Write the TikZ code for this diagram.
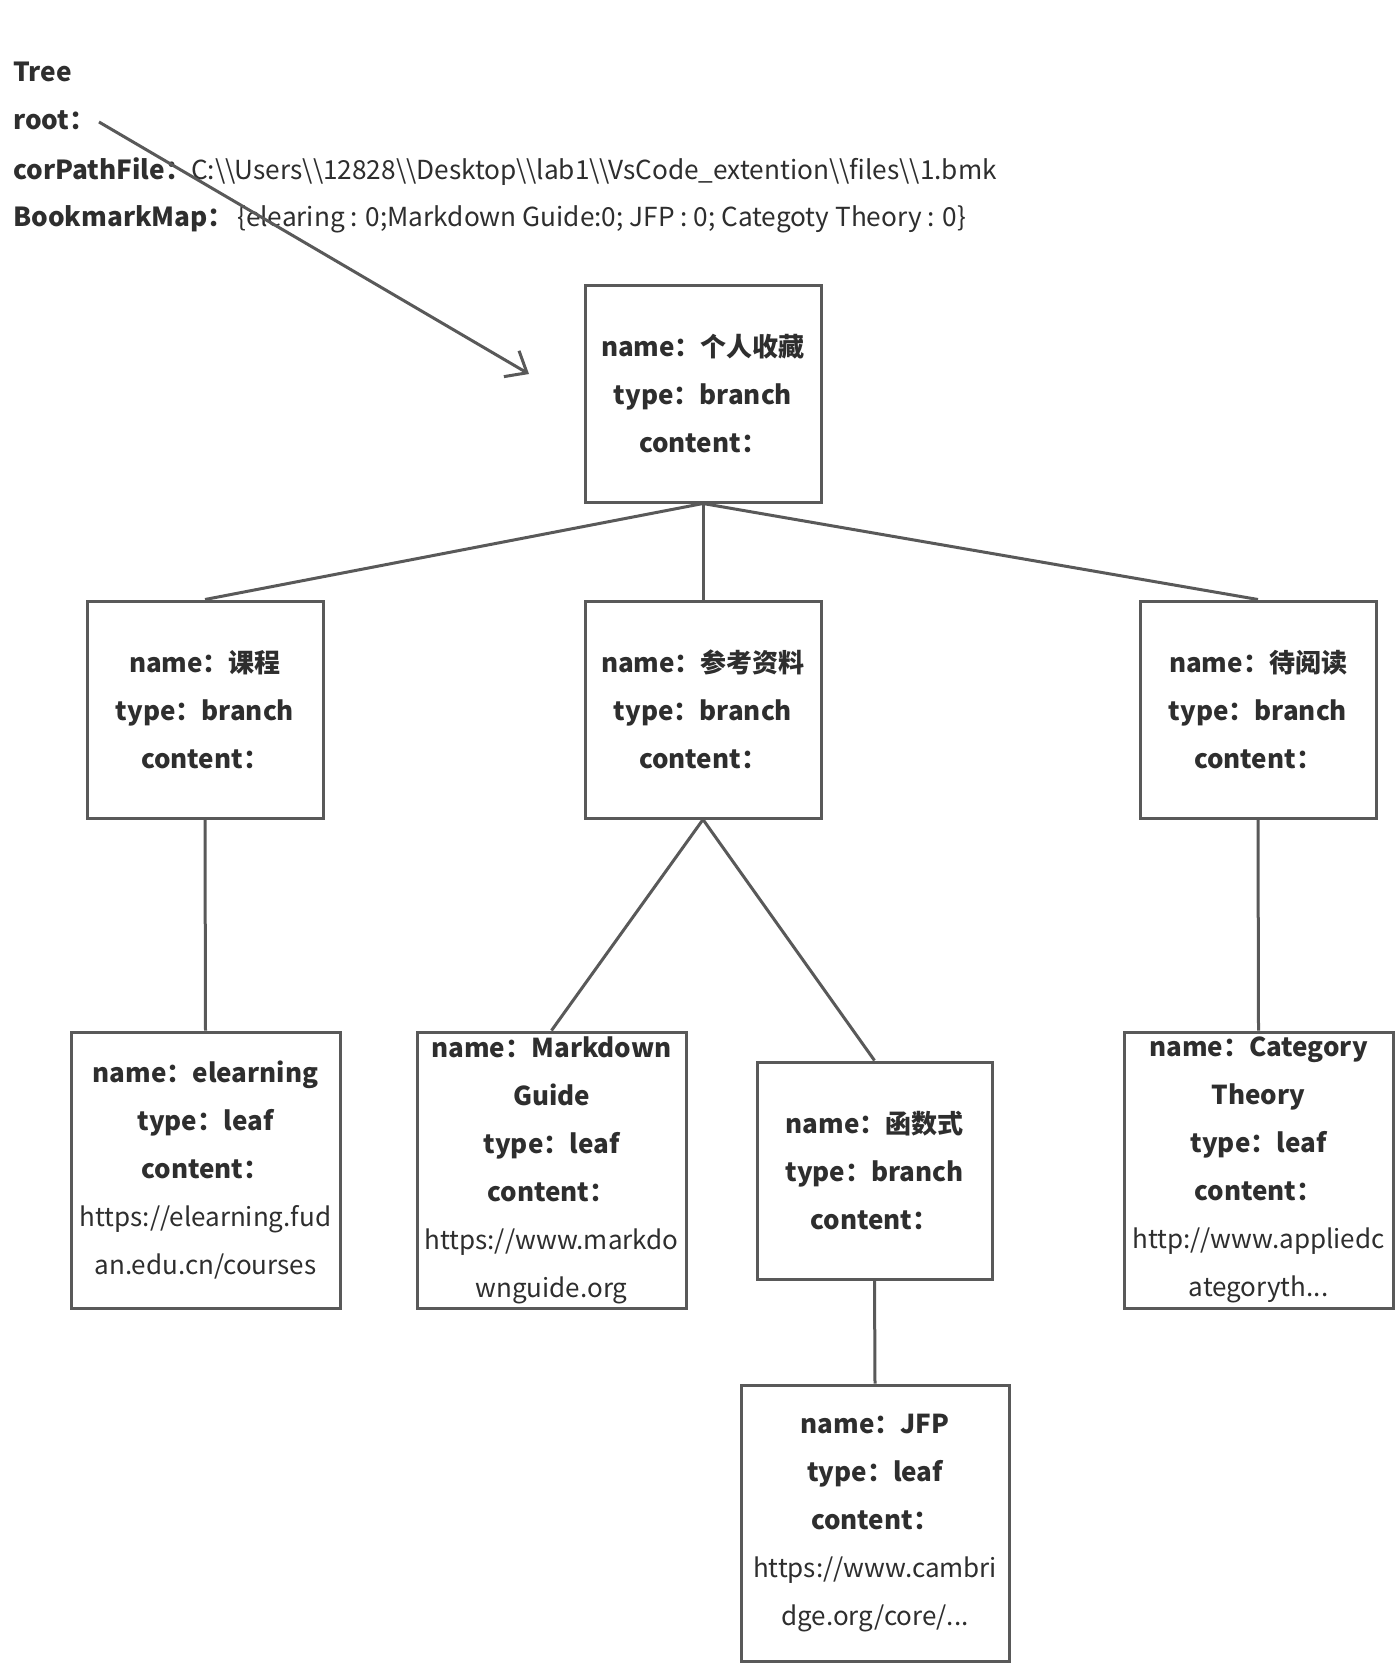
\documentclass[tikz,border=0pt]{standalone}
\usepackage{fontspec}
\setmainfont{Noto Sans CJK SC}
\usetikzlibrary{arrows.meta}
\definecolor{ln}{HTML}{595959}
\definecolor{tx}{HTML}{2E2E2E}
\begin{document}
\begin{tikzpicture}[x=1pt,y=-1pt,
  box/.style={draw=ln, line width=3pt, fill=white, inner sep=0pt, align=center, text=tx, font=\fontsize{26}{48}\selectfont\bfseries},
  conn/.style={draw=ln, line width=3pt},
  hdr/.style={anchor=base west, inner sep=0pt, text=tx, font=\fontsize{26.2}{30}\selectfont}]
\useasboundingbox[fill=white] (0,0) rectangle (1397,1667);
% header
\node[hdr] (t1) at (13,82) {\bfseries Tree};
\node[hdr] (t2) at (13,130) {\bfseries root：};
\node[hdr] (t3) at (13,179) {{\bfseries corPathFile：}C:\textbackslash\textbackslash Users\textbackslash\textbackslash 12828\textbackslash\textbackslash Desktop\textbackslash\textbackslash lab1\textbackslash\textbackslash VsCode\_extention\textbackslash\textbackslash files\textbackslash\textbackslash 1.bmk};
\node[hdr] (t4) at (13,226) {{\bfseries BookmarkMap：}\kern3pt\{elearing : 0;Markdown Guide:0; JFP : 0; Categoty Theory : 0\}};
% boxes
\node[box, minimum width=236, minimum height=217] (root) at (703,393.5) {name：个人收藏\\type：branch\\content：};
\node[box, minimum width=236, minimum height=217] (kc) at (205,709.5) {name：课程\\type：branch\\content：};
\node[box, minimum width=236, minimum height=217] (ck) at (703,709.5) {name：参考资料\\type：branch\\content：};
\node[box, minimum width=236, minimum height=217] (dy) at (1258,709.5) {name：待阅读\\type：branch\\content：};
\node[box, minimum width=269, minimum height=276] (el) at (205.5,1170) {name：elearning\\type：leaf\\content：\\{\mdseries https://elearning.fud}\\{\mdseries an.edu.cn/courses}};
\node[box, minimum width=269, minimum height=276] (md) at (551.5,1170) {name：Markdown\\Guide\\type：leaf\\content：\\{\mdseries https://www.markdo}\\{\mdseries wnguide.org}};
\node[box, minimum width=235, minimum height=217] (hs) at (874.5,1170.5) {name：函数式\\type：branch\\content：};
\node[box, minimum width=269, minimum height=276] (ct) at (1258.5,1170) {name：Category\\Theory\\type：leaf\\content：\\{\mdseries http://www.appliedc}\\{\mdseries ategoryth...}};
\node[box, minimum width=268, minimum height=276] (jfp) at (875,1523) {name：JFP\\type：leaf\\content：\\{\mdseries https://www.cambri}\\{\mdseries dge.org/core/...}};
% connectors
\draw[conn] (root.south) -- (kc.north);
\draw[conn] (root.south) -- (ck.north);
\draw[conn] (root.south) -- (dy.north);
\draw[conn] (kc.south) -- (el.north);
\draw[conn] (ck.south) -- (md.north);
\draw[conn] (ck.south) -- (hs.north);
\draw[conn] (dy.south) -- (ct.north);
\draw[conn] (hs.south) -- (jfp.north);
% arrow
\coordinate (a0) at (99,122);
\coordinate (a1) at (529,374);
\draw[conn, -{Straight Barb[length=18pt, width=30pt]}] (a0) -- (a1);
\end{tikzpicture}
\end{document}
